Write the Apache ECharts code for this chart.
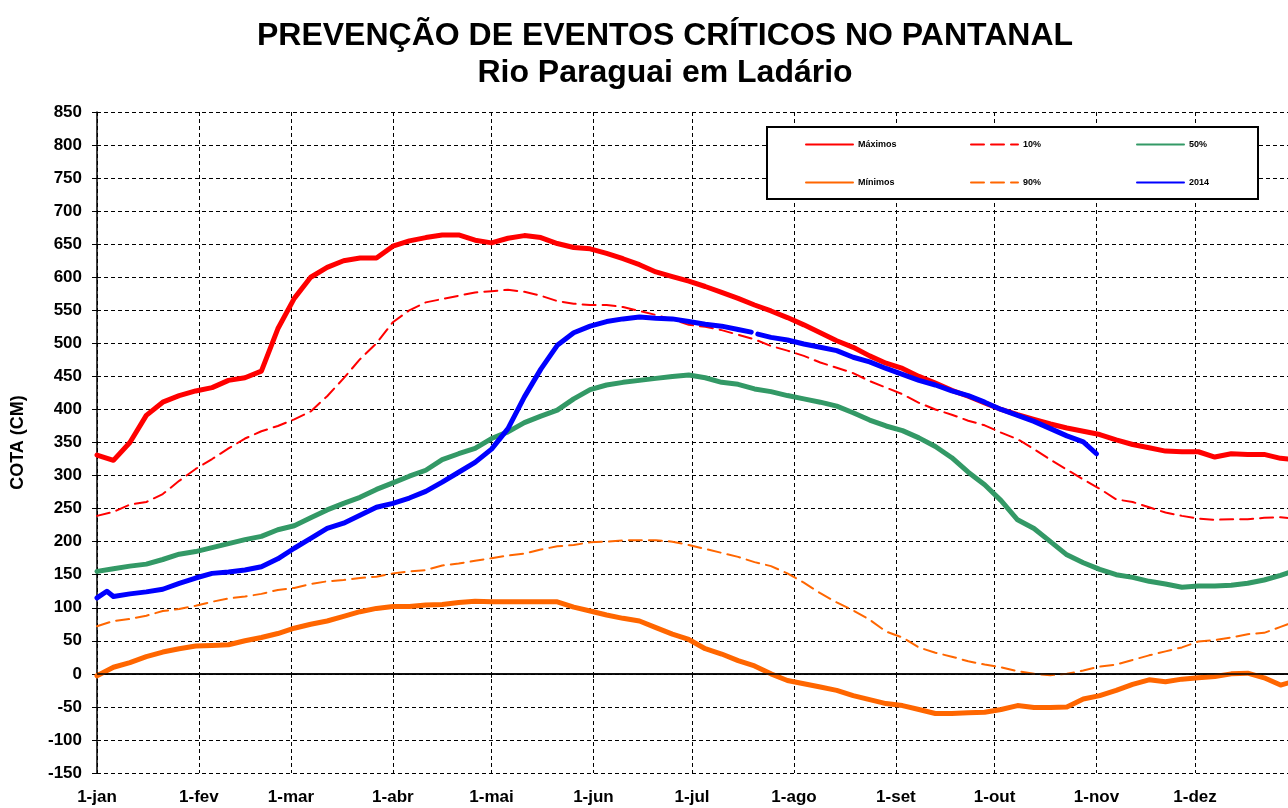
<!DOCTYPE html>
<html>
<head>
<meta charset="utf-8">
<script src="https://cdn.jsdelivr.net/npm/echarts@6/dist/echarts.min.js"></script>
<style>html,body{margin:0;padding:0;background:#fff}#c{width:1288px;height:808px}</style>
</head>
<body>
<div id="c"></div>
<script>
// Day of year (0 = 1-jan)
const days = [0,5,10,15,20,25,30,35,40,45,50,55,60,65,70,75,80,85,90,95,100,105,110,115,120,125,130,135,140,145,150,155,160,165,170,175,180,185,190,195,200,205,210,215,220,225,230,235,240,245,250,255,260,265,270,275,280,285,290,295,300,305,310,315,320,325,330,335,340,345,350,355,360,365];
const maximos = [331,323,350,391,411,421,428,433,444,448,458,522,568,600,615,625,629,629,647,655,660,664,664,656,652,659,663,660,651,645,643,636,628,619,608,601,594,586,577,568,558,549,539,528,516,504,494,481,470,462,450,440,429,420,410,400,392,385,378,372,367,362,354,347,342,337,336,336,328,333,332,332,326,324];
const p10 = [239,245,256,260,272,292,310,325,341,356,367,375,385,397,420,447,476,500,532,550,562,567,572,577,579,581,578,572,564,560,558,558,555,549,543,536,528,525,520,513,506,496,489,481,471,463,455,443,433,423,410,400,392,383,376,365,355,340,324,309,294,280,264,260,252,244,239,235,233,234,234,236,237,234];
const p50 = [155,159,163,166,173,181,185,191,197,203,208,218,224,236,248,258,267,279,289,299,308,324,333,341,356,366,380,390,399,416,430,437,441,444,447,450,452,448,441,438,431,427,421,416,411,405,395,384,375,368,357,344,327,305,286,262,233,220,200,180,168,158,150,146,140,136,131,133,133,134,137,142,149,157];
const minimos = [-3,10,17,26,33,38,42,43,44,50,55,61,69,75,80,87,94,99,102,102,104,105,108,110,109,109,109,109,109,101,95,89,84,80,70,60,52,38,30,20,12,0,-10,-15,-20,-25,-33,-39,-45,-48,-54,-60,-60,-59,-58,-54,-48,-51,-51,-50,-38,-33,-25,-16,-9,-12,-8,-6,-4,0,1,-6,-17,-10];
const p90 = [72,80,83,88,95,98,103,109,114,117,121,127,130,136,140,142,145,147,152,155,157,164,167,171,175,179,182,188,193,195,199,200,202,202,202,200,195,189,183,177,169,163,152,138,122,108,96,82,64,55,40,32,26,19,14,10,4,0,-2,0,5,11,14,21,28,34,40,49,51,55,60,62,71,80];
const days2014 = [0,3,5,10,15,20,25,30,35,40,45,50,55,60,65,70,75,80,85,90,95,100,105,110,115,120,125,130,135,140,145,150,155,160,165,170,175,180,185,190,195,199,200,201,205,210,215,220,225,230,235,240,245,250,255,260,265,270,275,280,285,290,295,300,304];
const y2014 = [115,125,117,121,124,128,137,145,152,154,157,162,174,190,205,220,228,240,252,258,266,276,290,305,320,340,371,419,461,497,516,526,533,537,540,538,537,533,529,526,521,517,null,514,509,505,499,494,489,479,472,462,453,444,437,428,421,411,400,391,382,371,360,351,333];
const monthStarts = [0,31,59,90,120,151,181,212,243,273,304,334];
const monthLabels = ['1-jan','1-fev','1-mar','1-abr','1-mai','1-jun','1-jul','1-ago','1-set','1-out','1-nov','1-dez'];

const zip = (xs, ys) => xs.map((x, i) => [x, ys[i]]);
const FONT = '"Liberation Sans", Arial, sans-serif';

const chart = echarts.init(document.getElementById('c'), null, {renderer: 'canvas'});

function lineSeries(name, xs, ys, color, width, dashed, z) {
  return {
    name, type: 'line', data: zip(xs, ys), symbol: 'none', smooth: false,
    connectNulls: false, z: z,
    lineStyle: {color, width, type: dashed ? [13, 7] : 'solid', cap: 'round', join: 'round'},
    itemStyle: {color}, emphasis: {disabled: true}, animation: false
  };
}

const legendItem = (name, left, top) => ({
  data: [name], left, top, padding: 0, itemWidth: 47, itemHeight: 10, z: 10,
  selectedMode: false, lineStyle: {width: 2}, itemStyle: {opacity: 0},
  textStyle: {fontFamily: FONT, fontSize: 9, fontWeight: 'bold', color: '#000'}
});

const maxS = lineSeries('Máximos', days, maximos, '#FF0000', 5, false, 3);
maxS.markLine = {
  silent: true, symbol: ['none', 'none'], label: {show: false},
  lineStyle: {color: '#000', type: 'solid', width: 1.5},
  data: [{yAxis: 0}], animation: false
};

chart.setOption({
  backgroundColor: '#fff',
  animation: false,
  title: {
    text: 'PREVENÇÃO DE EVENTOS CRÍTICOS NO PANTANAL\nRio Paraguai em Ladário',
    left: 660, top: 13, textAlign: 'center',
    textStyle: {fontFamily: FONT, fontSize: 32, fontWeight: 'bold', color: '#000', lineHeight: 37}
  },
  grid: {left: 97, top: 112, width: 1200, height: 661, containLabel: false, outerBoundsMode: 'none'},
  xAxis: {
    type: 'value', min: 0, max: 365,
    axisLine: {show: true, lineStyle: {color: '#000', width: 1.5}},
    axisTick: {show: true, customValues: monthStarts, length: 4, lineStyle: {color: '#000'}},
    axisLabel: {
      customValues: monthStarts, margin: 16,
      formatter: v => monthLabels[monthStarts.indexOf(v)],
      fontFamily: FONT, fontSize: 17, fontWeight: 'bold', color: '#000'
    },
    splitLine: {show: true, lineStyle: {color: '#000', type: [4, 3], width: 1}}
  },
  yAxis: {
    type: 'value', min: -150, max: 850, interval: 50,
    name: 'COTA (CM)', nameLocation: 'middle', nameGap: 70, nameRotate: 90,
    nameTextStyle: {fontFamily: FONT, fontSize: 18, fontWeight: 'bold', color: '#000'},
    axisLine: {show: true, onZero: false, lineStyle: {color: '#000', width: 1.5}},
    axisTick: {show: true, length: 5, lineStyle: {color: '#000'}},
    axisLabel: {fontFamily: FONT, fontSize: 17, fontWeight: 'bold', color: '#000', margin: 15},
    splitLine: {show: true, lineStyle: {color: '#000', type: [4, 3], width: 1}}
  },
  legend: [
    legendItem('Máximos', 805, 140),
    legendItem('10%', 970, 140),
    legendItem('50%', 1136, 140),
    legendItem('Mínimos', 805, 178),
    legendItem('90%', 970, 178),
    legendItem('2014', 1136, 178)
  ],
  graphic: [{
    type: 'rect', z: 5,
    shape: {x: 767, y: 127, width: 491, height: 72},
    style: {fill: '#fff', stroke: '#000', lineWidth: 2}
  }],
  series: [
    maxS,
    lineSeries('Mínimos', days, minimos, '#FF6600', 5, false, 3),
    lineSeries('10%', days, p10, '#FF0000', 2, true, 3),
    lineSeries('90%', days, p90, '#FF6600', 2, true, 3),
    lineSeries('50%', days, p50, '#339966', 5, false, 3),
    lineSeries('2014', days2014, y2014, '#0000FF', 5, false, 4)
  ]
});
</script>
</body>
</html>
